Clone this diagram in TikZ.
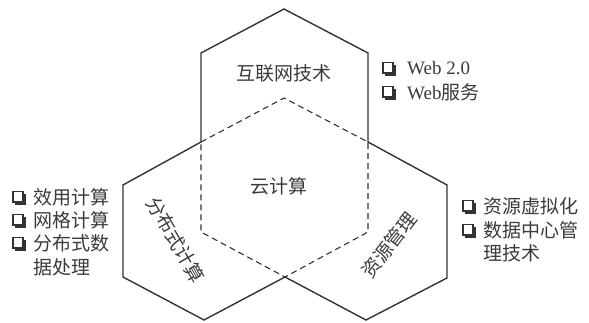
\documentclass[tikz,border=0pt]{standalone}
\usepackage{fontspec}
\setmainfont{Liberation Serif}
\newfontfamily\cjk{Noto Sans CJK SC}
\usetikzlibrary{calc}
\definecolor{ink}{HTML}{3A3A3A}
\definecolor{edge}{HTML}{333333}
\begin{document}
\begin{tikzpicture}[x=1pt,y=-1pt,
  outline/.style={draw=edge,line width=1.4pt,line join=miter},
  core/.style={draw=edge,line width=1.1pt,dash pattern=on 6pt off 4pt},
  lab/.style={text=ink,inner sep=0pt,font=\cjk\fontsize{19}{19}\selectfont},
  item/.style={text=ink,inner sep=0pt,anchor=west,font=\cjk\fontsize{19}{19}\selectfont},
  chkbox/.pic={
    \fill[edge] (2,-3.5) rectangle (12.5,7.5);
    \draw[edge,line width=1.1pt,fill=white] (0,-5.5) rectangle (10,5);
  }]
\useasboundingbox (0,0) rectangle (589,322);
% outline of the three hexagons
\coordinate (T) at (284,9);
\coordinate (TR) at (368,53);
\coordinate (R1) at (368,142);
\coordinate (R2) at (447,185);
\coordinate (R3) at (447,278);
\coordinate (BR) at (366,320);
\coordinate (N) at (285,277);
\coordinate (BL) at (204,320);
\coordinate (L3) at (123,277);
\coordinate (L2) at (123,185);
\coordinate (L1) at (201,142);
\coordinate (TL) at (201,53);
\draw[outline] (T) -- (TR) -- (R1) -- (R2) -- (R3) -- (BR) -- (N) -- (BL) -- (L3) -- (L2) -- (L1) -- (TL) -- cycle;
% central dashed hexagon
\coordinate (CT) at (284,98);
\coordinate (CR) at (368,232);
\coordinate (CL) at (201,232);
\draw[core] (L1) -- (CT) -- (R1) -- (CR) -- (N) -- (CL) -- cycle;
% labels
\node[lab] (top) at (284,73) {互联网技术};
\node[lab] (mid) at (279,186) {云计算};
\node[lab,rotate=-60] (left) at (176,240) {分布式计算};
\node[lab,rotate=52] (right) at (389,245) {资源管理};
% left list
\pic at (13,197) {chkbox};
\pic at (13,220) {chkbox};
\pic at (13,243) {chkbox};
\node[item] (a1) at (33,197) {效用计算};
\node[item] (a2) at (33,220) {网格计算};
\node[item] (a3) at (33,243) {分布式数};
\node[item] (a4) at (33,267) {据处理};
% top right list
\pic at (383,68) {chkbox};
\pic at (383,92) {chkbox};
\node[item,font=\fontsize{19}{19}\selectfont] (b1) at (407,68) {Web 2.0};
\node[item] (b2) at (407,92) {{\rmfamily Web}服务};
% bottom right list
\pic at (463,206) {chkbox};
\pic at (463,230) {chkbox};
\node[item] (c1) at (483,206) {资源虚拟化};
\node[item] (c2) at (483,230) {数据中心管};
\node[item] (c3) at (483,253) {理技术};
\end{tikzpicture}
\end{document}
